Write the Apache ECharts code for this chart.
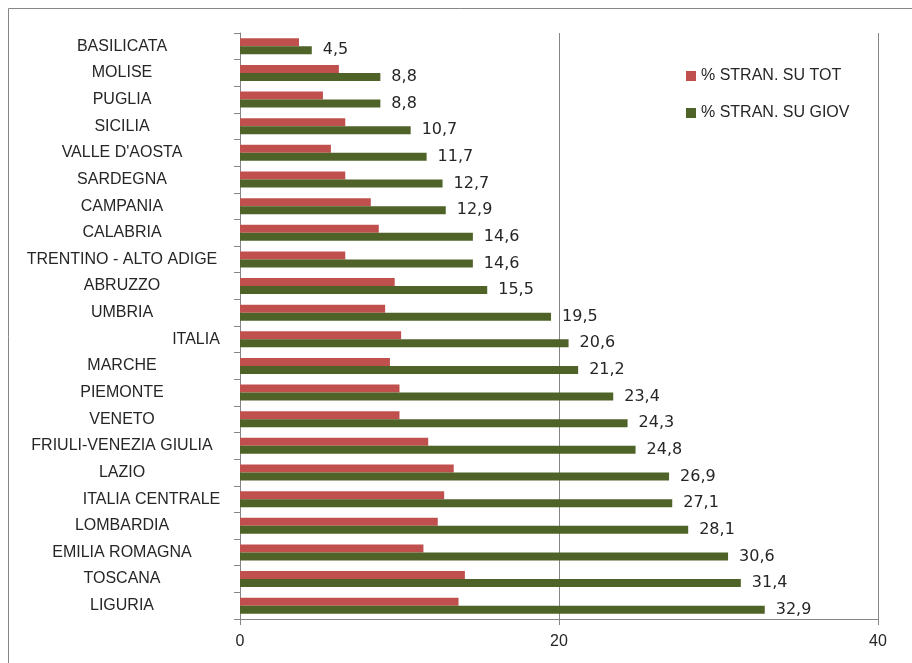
<!DOCTYPE html>
<html>
<head>
<meta charset="utf-8">
<script src="https://cdn.jsdelivr.net/npm/echarts@6/dist/echarts.min.js"></script>
<style>
  html, body { margin: 0; padding: 0; background: #fff; }
  #main { width: 912px; height: 663px; }
</style>
</head>
<body>
<div id="main"></div>
<script>
// regioni, dall'alto verso il basso
let regioni = ["BASILICATA", "MOLISE", "PUGLIA", "SICILIA", "VALLE D'AOSTA", "SARDEGNA",
  "CAMPANIA", "CALABRIA", "TRENTINO - ALTO ADIGE", "ABRUZZO", "UMBRIA", "ITALIA",
  "MARCHE", "PIEMONTE", "VENETO", "FRIULI-VENEZIA GIULIA", "LAZIO", "ITALIA CENTRALE",
  "LOMBARDIA", "EMILIA ROMAGNA", "TOSCANA", "LIGURIA"];
let suTot = [3.7, 6.2, 5.2, 6.6, 5.7, 6.6, 8.2, 8.7, 6.6, 9.7, 9.1, 10.1,
  9.4, 10.0, 10.0, 11.8, 13.4, 12.8, 12.4, 11.5, 14.1, 13.7];
let suGiov = [4.5, 8.8, 8.8, 10.7, 11.7, 12.7, 12.9, 14.6, 14.6, 15.5, 19.5, 20.6,
  21.2, 23.4, 24.3, 24.8, 26.9, 27.1, 28.1, 30.6, 31.4, 32.9];
let xTicks = [0, 20, 40];
let nomiSerie = ["% STRAN. SU TOT", "% STRAN. SU GIOV"];

let font = "Liberation Sans";
// etichette spostate a destra come nell'originale
let spostamento = { "ITALIA": 148, "ITALIA CENTRALE": 59 };

let myChart = echarts.init(document.getElementById("main"));
let option = {
  animation: false,
  graphic: [{
    type: "rect",
    shape: { x: 8.5, y: 8.5, width: 1000, height: 1000 },
    style: { fill: "none", stroke: "#868686", lineWidth: 1 },
    silent: true
  }],
  legend: {
    orient: "vertical",
    left: 681,
    top: 63,
    itemWidth: 10,
    itemHeight: 10,
    itemGap: 21,
    icon: "rect",
    data: nomiSerie,
    textStyle: { fontFamily: font, fontSize: 16, color: "#262626" }
  },
  grid: { left: 240, right: 34, top: 33, bottom: 44, containLabel: false },
  xAxis: {
    type: "value",
    min: xTicks[0],
    max: xTicks[xTicks.length - 1],
    interval: xTicks[1] - xTicks[0],
    axisLine: { show: true, lineStyle: { color: "#868686" } },
    axisTick: { show: true, length: 6, lineStyle: { color: "#868686" } },
    splitLine: { show: true, lineStyle: { color: "#868686", width: 1 } },
    axisLabel: { fontFamily: font, fontSize: 16, color: "#262626", margin: 15 }
  },
  yAxis: {
    type: "category",
    inverse: true,
    data: regioni,
    axisLine: { show: true, lineStyle: { color: "#868686" } },
    axisTick: { show: true, length: 6, lineStyle: { color: "#868686" } },
    axisLabel: {
      fontFamily: font, fontSize: 16, color: "#262626",
      margin: 118, align: "center",
      formatter: function (v) {
        return spostamento[v] ? "{s" + spostamento[v] + "|" + v + "}" : v;
      },
      rich: {
        s148: { fontFamily: font, fontSize: 16, color: "#262626", padding: [0, 0, 0, 148] },
        s59: { fontFamily: font, fontSize: 16, color: "#262626", padding: [0, 0, 0, 59] }
      }
    }
  },
  series: [
    {
      name: nomiSerie[0],
      type: "bar",
      data: suTot,
      barGap: "0%",
      barCategoryGap: "40%",
      itemStyle: { color: "#C0504D" }
    },
    {
      name: nomiSerie[1],
      type: "bar",
      data: suGiov,
      barGap: "0%",
      barCategoryGap: "40%",
      itemStyle: { color: "#4F6228" },
      label: {
        show: true,
        position: "right",
        distance: 11,
        fontFamily: "DejaVu Sans",
        fontSize: 16,
        color: "#262626",
        formatter: function (p) { return p.value.toFixed(1).replace(".", ","); }
      }
    }
  ]
};
myChart.setOption(option);
</script>
</body>
</html>
